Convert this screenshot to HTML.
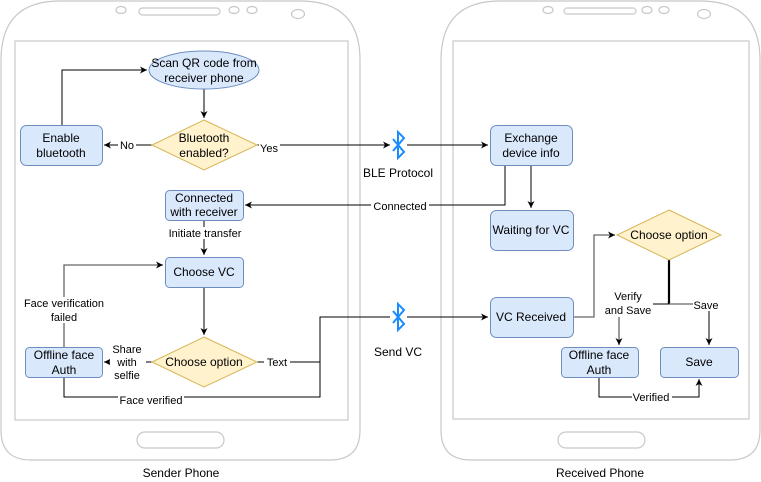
<!DOCTYPE html>
<html><head><meta charset="utf-8"><style>
html,body{margin:0;padding:0;background:#fff}
svg{display:block}
text{font-family:"Liberation Sans",Arial,sans-serif;fill:#000}
.n{font-size:12px;text-anchor:middle}
.l{font-size:11px;text-anchor:middle}
</style></head><body>
<svg width="761" height="482" viewBox="0 0 761 482" xmlns="http://www.w3.org/2000/svg">
<defs>
<marker id="a" markerWidth="8" markerHeight="8" refX="7" refY="4" orient="auto" markerUnits="userSpaceOnUse"><path d="M0,0.5 L7,4 L0,7.5 L2,4 Z" fill="#000"/></marker>
</defs>
<g fill="none" stroke="#c8c8c8" stroke-width="1.2">
<path d="M1,60 Q1,1 60,1 L300,1 Q360,1 360,60 L360,430 Q360,460 330,460 L31,460 Q1,460 1,430 Z"/>
<rect x="15" y="41" width="333" height="379"/>
<rect x="139" y="8" width="81" height="7" rx="3.5"/>
<ellipse cx="121" cy="10" rx="5" ry="3.5"/><ellipse cx="234" cy="10" rx="5" ry="3.5"/><ellipse cx="252" cy="10" rx="5" ry="3.5"/><ellipse cx="298" cy="14" rx="6.5" ry="4.5"/>
<rect x="137" y="432" width="87" height="16" rx="8"/>
<path d="M441,60 Q441,1 500,1 L700,1 Q760,1 760,60 L760,430 Q760,460 730,460 L471,460 Q441,460 441,430 Z"/>
<rect x="453" y="41" width="296" height="378"/>
<rect x="564" y="8" width="72" height="6" rx="3"/>
<ellipse cx="548" cy="10" rx="5" ry="3.5"/><ellipse cx="647" cy="10" rx="5" ry="3.5"/><ellipse cx="664" cy="10" rx="5" ry="3.5"/><ellipse cx="704" cy="14" rx="6.5" ry="4.5"/>
<rect x="558" y="432" width="87" height="16" rx="8"/>
</g>
<g fill="none" stroke="#000" stroke-width="1">
<path d="M204,89 V118" marker-end="url(#a)"/>
<path d="M62,125 V70 H147" marker-end="url(#a)"/>
<path d="M152,145 H104" marker-end="url(#a)"/>
<path d="M257,145 H390" marker-end="url(#a)"/>
<path d="M407,145 H488" marker-end="url(#a)"/>
<path d="M505,165 V205 H245" marker-end="url(#a)"/>
<path d="M531,165 V208" marker-end="url(#a)"/>
<path d="M204,220 V255" marker-end="url(#a)"/>
<path d="M204,287 V335" marker-end="url(#a)"/>
<path d="M152,362 H104" marker-end="url(#a)"/>
<path d="M64,347 V265 H163" stroke="#666" stroke-width="1.3" marker-end="url(#a)"/>
<path d="M64,377 V397 H320 V317 H390"/>
<path d="M257,362 H320"/>
<path d="M407,317 H488" marker-end="url(#a)"/>
<path d="M573,317 H594 V235 H615" stroke="#666" stroke-width="1.3" marker-end="url(#a)"/>
<path d="M669,260 V304" stroke-width="2.2"/>
<path d="M669,304 H650"/>
<path d="M669,304 H709" stroke="#666" stroke-width="1.3"/>
<path d="M709,304 V345" marker-end="url(#a)"/>
<path d="M619,317 V345" stroke="#666" stroke-width="1.3" marker-end="url(#a)"/>
<path d="M599,377 V397 H699 V379" marker-end="url(#a)"/>
</g>
<g stroke-width="1">
<ellipse cx="204" cy="70" rx="55" ry="19" fill="#dae8fc" stroke="#6c8ebf"/>
<path d="M204,120 L257,145 L204,170 L152,145 Z" fill="#fff2cc" stroke="#d6b656"/>
<path d="M204,337 L257,362 L204,387 L152,362 Z" fill="#fff2cc" stroke="#d6b656"/>
<path d="M669,210 L721,235 L669,260 L617,235 Z" fill="#fff2cc" stroke="#d6b656"/>
<g fill="#dae8fc" stroke="#6c8ebf">
<rect x="20.5" y="125.5" width="82" height="40" rx="6"/>
<rect x="165.5" y="190.5" width="78" height="30" rx="4"/>
<rect x="165.5" y="257.5" width="78" height="30" rx="4"/>
<rect x="25.5" y="347.5" width="77" height="30" rx="4"/>
<rect x="490.5" y="125.5" width="82" height="40" rx="6"/>
<rect x="490.5" y="210.5" width="83" height="40" rx="6"/>
<rect x="490.5" y="297.5" width="83" height="40" rx="6"/>
<rect x="561.5" y="347.5" width="77" height="30" rx="4"/>
<rect x="660.5" y="347.5" width="78" height="30" rx="4"/>
</g>
</g>
<g fill="none" stroke="#1a8cff" stroke-width="2" stroke-linejoin="miter">
<path d="M393,139 L404,152 L398,158 V132 L404,138 L393,151"/>
<path d="M393,311 L404,324 L398,330 V304 L404,310 L393,323"/>
</g>
<g fill="#fff">
<rect x="118" y="139" width="18" height="12"/>
<rect x="259" y="141" width="21" height="12"/>
<rect x="371" y="200" width="58" height="12"/>
<rect x="169" y="227" width="72" height="12"/>
<rect x="22" y="297" width="84" height="26"/>
<rect x="110" y="342" width="36" height="40"/>
<rect x="264" y="356" width="26" height="12"/>
<rect x="118" y="394" width="66" height="12"/>
<rect x="603" y="289" width="50" height="28"/>
<rect x="693" y="299" width="30" height="12"/>
<rect x="632" y="391" width="40" height="12"/>
</g>
<text class="n" x="204" y="67">Scan QR code from</text>
<text class="n" x="204" y="82">receiver phone</text>
<text class="n" x="204" y="142">Bluetooth</text>
<text class="n" x="204" y="157">enabled?</text>
<text class="n" x="61" y="142">Enable</text>
<text class="n" x="61" y="157">bluetooth</text>
<text class="n" x="204" y="202">Connected</text>
<text class="n" x="204" y="216">with receiver</text>
<text class="n" x="204" y="276">Choose VC</text>
<text class="n" x="204" y="366">Choose option</text>
<text class="n" x="64" y="359">Offline face</text>
<text class="n" x="64" y="374">Auth</text>
<text class="n" x="531" y="142">Exchange</text>
<text class="n" x="531" y="157">device info</text>
<text class="n" x="531" y="234">Waiting for VC</text>
<text class="n" x="531" y="321">VC Received</text>
<text class="n" x="669" y="239">Choose option</text>
<text class="n" x="599" y="359">Offline face</text>
<text class="n" x="599" y="374">Auth</text>
<text class="n" x="699" y="366">Save</text>
<text class="n" x="398" y="177">BLE Protocol</text>
<text class="n" x="398" y="356">Send VC</text>
<text class="n" x="181" y="477">Sender Phone</text>
<text class="n" x="600" y="477">Received Phone</text>
<text class="l" x="127" y="149">No</text>
<text class="l" x="269" y="152">Yes</text>
<text class="l" x="400" y="210">Connected</text>
<text class="l" x="205" y="237">Initiate transfer</text>
<text class="l" x="64" y="307">Face verification</text>
<text class="l" x="64" y="321">failed</text>
<text class="l" x="127" y="353">Share</text>
<text class="l" x="127" y="366">with</text>
<text class="l" x="127" y="379">selfie</text>
<text class="l" x="277" y="366">Text</text>
<text class="l" x="151" y="404">Face verified</text>
<text class="l" x="628" y="300">Verify</text>
<text class="l" x="628" y="314">and Save</text>
<text class="l" x="706" y="309">Save</text>
<text class="l" x="651" y="401">Verified</text>
</svg>
</body></html>
